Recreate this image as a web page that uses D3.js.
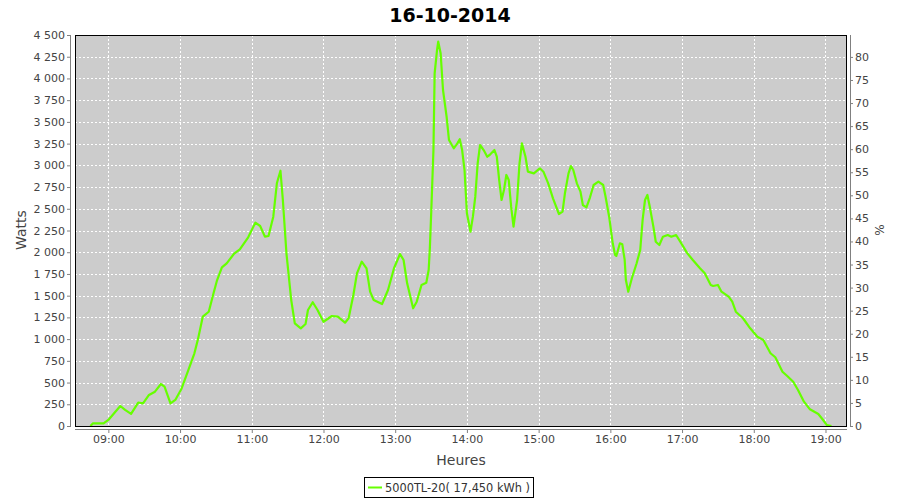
<!DOCTYPE html>
<html><head><meta charset="utf-8">
<script src="https://cdn.jsdelivr.net/npm/d3@7"></script>
<style>body{margin:0;background:#fff}svg{display:block}</style>
</head><body>
<svg id="c" width="900" height="500"></svg>
<script>
const title = "16-10-2014";
const seriesName = "5000TL-20( 17,450 kWh )";
const times = ["08:45","08:47","08:56","09:00","09:10","09:14","09:19","09:25","09:29","09:34","09:39","09:44","09:47","09:52","09:56","10:01","10:07","10:12","10:15","10:19","10:24","10:28","10:31","10:35","10:39","10:45","10:50","10:57","11:03","11:07","11:11","11:14","11:18","11:21","11:24","11:26","11:29","11:33","11:36","11:41","11:45","11:47","11:51","11:55","12:00","12:07","12:12","12:18","12:21","12:25","12:28","12:32","12:36","12:39","12:42","12:49","12:54","12:59","13:04","13:07","13:10","13:15","13:18","13:22","13:26","13:28","13:29","13:30","13:32","13:33","13:35","13:36","13:38","13:40","13:43","13:45","13:49","13:52","13:54","13:56","13:58","14:00","14:03","14:05","14:07","14:09","14:11","14:14","14:17","14:19","14:23","14:25","14:27","14:29","14:31","14:33","14:35","14:37","14:39","14:42","14:44","14:46","14:49","14:51","14:56","15:01","15:04","15:08","15:12","15:17","15:20","15:22","15:25","15:27","15:29","15:32","15:35","15:37","15:40","15:43","15:46","15:50","15:54","15:56","15:59","16:02","16:04","16:05","16:08","16:10","16:12","16:13","16:15","16:18","16:22","16:25","16:27","16:29","16:31","16:33","16:36","16:38","16:41","16:44","16:48","16:51","16:55","16:59","17:04","17:09","17:15","17:19","17:24","17:26","17:30","17:33","17:39","17:42","17:45","17:51","17:57","18:03","18:08","18:14","18:18","18:24","18:28","18:33","18:37","18:42","18:47","18:54","18:58","19:01","19:05"];
const watts = [0,30,30,70,230,185,140,270,260,357,395,483,452,260,300,422,645,837,1000,1258,1315,1527,1680,1826,1872,1980,2034,2172,2340,2302,2179,2187,2409,2793,2938,2601,1988,1450,1182,1124,1174,1335,1424,1335,1200,1266,1258,1189,1240,1508,1757,1891,1815,1546,1450,1404,1565,1815,1980,1910,1642,1355,1431,1623,1649,1795,2050,2409,3176,4059,4327,4423,4290,3867,3560,3291,3196,3253,3300,3176,2946,2448,2236,2409,2639,3023,3234,3176,3099,3119,3176,3099,2831,2601,2716,2889,2831,2524,2294,2601,3023,3253,3099,2927,2908,2966,2927,2793,2620,2440,2467,2678,2908,2992,2946,2793,2697,2544,2517,2632,2774,2812,2774,2639,2409,2103,1968,1957,2103,2091,1911,1680,1546,1700,1873,2026,2371,2601,2659,2524,2294,2121,2083,2179,2198,2179,2198,2110,1995,1911,1815,1757,1623,1611,1623,1546,1488,1431,1315,1240,1124,1028,990,837,791,625,575,510,414,280,192,138,69,12,0];
const xTickLabels = ["09:00","10:00","11:00","12:00","13:00","14:00","15:00","16:00","17:00","18:00","19:00"];
const yTicks = [0,250,500,750,1000,1250,1500,1750,2000,2250,2500,2750,3000,3250,3500,3750,4000,4250,4500];
const pctTicks = [0,5,10,15,20,25,30,35,40,45,50,55,60,65,70,75,80];
const xLabel = "Heures", yLabel = "Watts", y2Label = "%";

const toMin = s => { const [h,m] = s.split(":").map(Number); return h*60+m; };
const data = times.map((t,i)=>({t:toMin(t), w:watts[i]}));

const L=75, R=847, T=35, B=426;
const svg = d3.select("#c");
const font = "DejaVu Sans, sans-serif";
const x = d3.scaleLinear().domain([512.1, 1158]).range([L,R]);
const y = d3.scaleLinear().domain([0,4500]).range([B,T]);
const y2 = d3.scaleLinear().domain([0,84.75]).range([B,T]);

svg.append("rect").attr("x",L).attr("y",T).attr("width",R-L).attr("height",B-T).attr("fill","#cccccc");

const xt = xTickLabels.map(toMin);
// grid
svg.append("g").selectAll("line").data(yTicks.slice(1)).join("line")
  .attr("x1",L).attr("x2",R).attr("y1",d=>Math.round(y(d))+0.5).attr("y2",d=>Math.round(y(d))+0.5)
  .attr("stroke","#fff").attr("stroke-dasharray","2,2");
svg.append("g").selectAll("line").data(xt).join("line")
  .attr("x1",d=>Math.round(x(d))+0.5).attr("x2",d=>Math.round(x(d))+0.5).attr("y1",T).attr("y2",B)
  .attr("stroke","#fff").attr("stroke-dasharray","2,2");

// line
svg.append("path").datum(data)
  .attr("d", d3.line().x(d=>x(d.t)).y(d=>y(d.w)))
  .attr("fill","none").attr("stroke","#66ff00").attr("stroke-width",2.2).attr("stroke-linejoin","round");

svg.append("rect").attr("x",L+0.5).attr("y",T+0.5).attr("width",R-L-1).attr("height",B-T).attr("fill","none").attr("stroke","#000");

// axes
const fmt = d => d3.format(",")(d).replace(/,/g," ");
const yAx = svg.append("g").attr("transform",`translate(${L-4},0)`)
  .call(d3.axisLeft(y).tickValues(yTicks).tickFormat(fmt).tickSize(4).tickPadding(2));
const y2Ax = svg.append("g").attr("transform",`translate(${R+3},0)`)
  .call(d3.axisRight(y2).tickValues(pctTicks).tickSize(3).tickPadding(2));
const xAx = svg.append("g").attr("transform",`translate(0,${B+3})`)
  .call(d3.axisBottom(x).tickValues(xt).tickFormat((d,i)=>xTickLabels[i]).tickSize(4).tickPadding(2));
[yAx,y2Ax,xAx].forEach(g=>{
  g.select(".domain").attr("stroke","#808080");
  g.selectAll(".tick line").attr("stroke","#808080");
  g.selectAll("text").attr("fill","#444").style("font-family",font).style("font-size","11px");
});
yAx.select(".domain").attr("d",`M-0.5,${T}V${B}`);
y2Ax.select(".domain").attr("d",`M0.5,${T}V${B}`);
xAx.select(".domain").attr("d",`M${L},0.5H${R}`);

// titles
svg.append("text").attr("x",450).attr("y",22).attr("text-anchor","middle")
  .style("font-family",font).style("font-size","19px").style("font-weight","bold").attr("fill","#000").text(title);
svg.append("text").attr("x",461).attr("y",465).attr("text-anchor","middle")
  .style("font-family",font).style("font-size","14px").attr("fill","#444").text(xLabel);
svg.append("text").attr("transform","translate(26,230) rotate(-90)").attr("text-anchor","middle")
  .style("font-family",font).style("font-size","14px").attr("fill","#444").text(yLabel);
svg.append("text").attr("transform","translate(884,230) rotate(-90)").attr("text-anchor","middle")
  .style("font-family",font).style("font-size","12px").attr("fill","#444").text(y2Label);

// legend
const lg = svg.append("g");
lg.append("rect").attr("x",364.5).attr("y",477.5).attr("width",169).attr("height",20).attr("fill","#fff").attr("stroke","#000");
lg.append("line").attr("x1",368).attr("x2",382).attr("y1",487.5).attr("y2",487.5).attr("stroke","#66ff00").attr("stroke-width",2);
lg.append("text").attr("x",385).attr("y",492).attr("textLength",145).attr("lengthAdjust","spacingAndGlyphs")
  .style("font-family",font).style("font-size","11.5px").attr("fill","#333").text(seriesName);
</script>
</body></html>
